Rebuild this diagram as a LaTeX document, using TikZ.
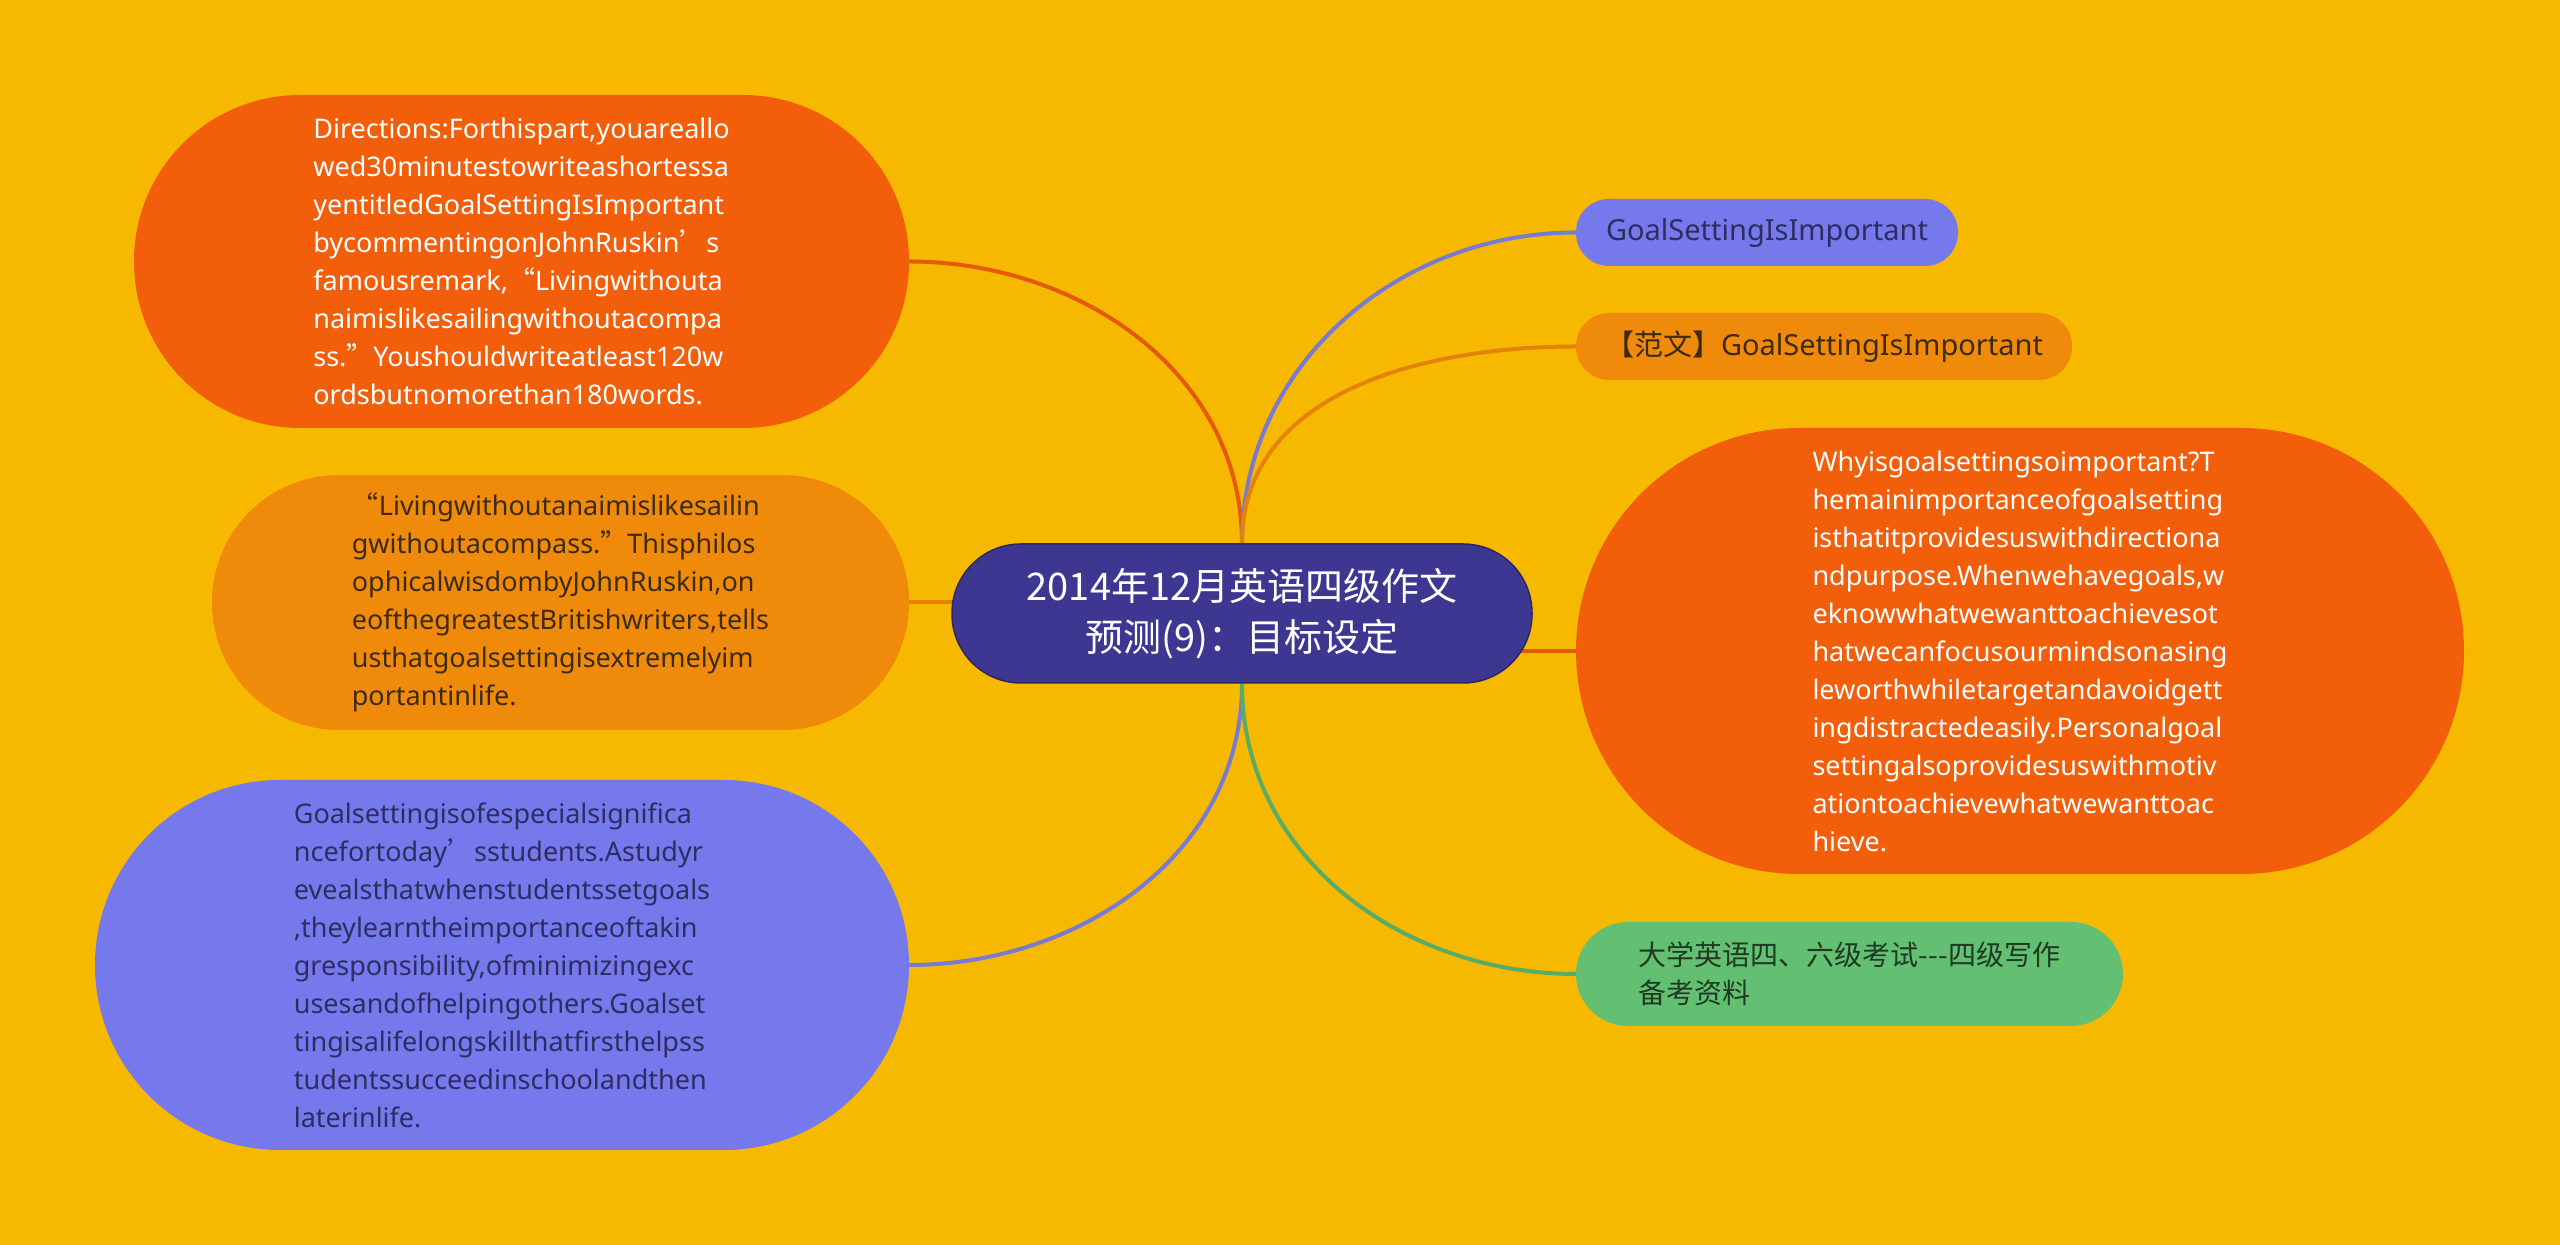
\documentclass[tikz,border=0pt]{standalone}
\usepackage{fontspec}
\setmainfont{Noto Sans}
\newfontfamily\cjk{Noto Sans CJK SC}
\usetikzlibrary{backgrounds}

\definecolor{bgyellow}{HTML}{F6B900}
\definecolor{redorange}{HTML}{F25E0A}
\definecolor{orange}{HTML}{F08A0A}
\definecolor{periwinkle}{HTML}{7579EC}
\definecolor{hubnavy}{HTML}{3E3791}
\definecolor{leafgreen}{HTML}{63BF71}
\definecolor{browntext}{HTML}{3B2B12}
\definecolor{navytext}{HTML}{2D2D62}
\definecolor{greentext}{HTML}{1E3A22}

\newcommand\parafont{\fontsize{27}{38}\selectfont}
\newcommand\q[1]{{\cjk #1}}

\tikzset{
  bubble/.style={rectangle, rounded corners=#1, inner sep=0pt, align=left},
  link/.style={line width=4pt}
}

\begin{document}
\begin{tikzpicture}[x=1pt,y=1pt]
\useasboundingbox (0,0) rectangle (2560,1245);

% centre
\node[bubble=69pt, fill=hubnavy, draw=hubnavy!70!black, line width=1.5pt, text=white, align=center,
      minimum width=580pt, minimum height=139pt, font=\cjk\fontsize{38}{51}\selectfont] (hub) at (1242,631.5)
  {2014年12月英语四级作文\\预测(9)：目标设定};

% left side
\node[bubble=166pt, fill=redorange, text=white, minimum width=775pt, minimum height=333pt, font=\parafont] (direc) at (521.5,983.5)
  {Directions:Forthispart,youareallo\\
   wed30minutestowriteashortessa\\
   yentitledGoalSettingIsImportant\\
   bycommentingonJohnRuskin\q{’}s\\
   famousremark,\q{“}Livingwithouta\\
   naimislikesailingwithoutacompa\\
   ss.\q{”}Youshouldwriteatleast120w\\
   ordsbutnomorethan180words.};
\node[bubble=127pt, fill=orange, text=browntext, minimum width=697pt, minimum height=255pt, font=\parafont] (quote) at (560.5,642.5)
  {\q{“}Livingwithoutanaimislikesailin\\
   gwithoutacompass.\q{”}Thisphilos\\
   ophicalwisdombyJohnRuskin,on\\
   eofthegreatestBritishwriters,tells\\
   usthatgoalsettingisextremelyim\\
   portantinlife.};
\node[bubble=185pt, fill=periwinkle, text=navytext, minimum width=814pt, minimum height=370pt, font=\parafont] (signif) at (502,280)
  {Goalsettingisofespecialsignifica\\
   ncefortoday\q{’}sstudents.Astudyr\\
   evealsthatwhenstudentssetgoals\\
   ,theylearntheimportanceoftakin\\
   gresponsibility,ofminimizingexc\\
   usesandofhelpingothers.Goalset\\
   tingisalifelongskillthatfirsthelpss\\
   tudentssucceedinschoolandthen\\
   laterinlife.};

% right side
\node[bubble=33pt, fill=periwinkle, text=navytext, minimum width=382pt, minimum height=67pt, font=\fontsize{29}{38}\selectfont] (title) at (1767,1012.5)
  {GoalSettingIsImportant};
\node[bubble=33pt, fill=orange, text=browntext, minimum width=496pt, minimum height=67pt, font=\fontsize{29}{38}\selectfont] (model) at (1824,898.5)
  {\q{【范文】}GoalSettingIsImportant};
\node[bubble=223pt, fill=redorange, text=white, minimum width=888pt, minimum height=446pt, font=\parafont] (reason) at (2020,594)
  {Whyisgoalsettingsoimportant?T\\
   hemainimportanceofgoalsetting\\
   isthatitprovidesuswithdirectiona\\
   ndpurpose.Whenwehavegoals,w\\
   eknowwhatwewanttoachievesot\\
   hatwecanfocusourmindsonasing\\
   leworthwhiletargetandavoidgett\\
   ingdistractedeasily.Personalgoal\\
   settingalsoprovidesuswithmotiv\\
   ationtoachievewhatwewanttoac\\
   hieve.};
\node[bubble=52pt, fill=leafgreen, text=greentext, minimum width=547pt, minimum height=104pt, font=\cjk\fontsize{28}{38}\selectfont] (ref) at (1849.5,271)
  {大学英语四、六级考试-\kern0pt-\kern0pt-四级写作\\备考资料};

\begin{scope}[on background layer]
\fill[bgyellow] (0,0) rectangle (2560,1245);
\draw[link, color=redorange!95!black] (hub.north) to[out=90,in=0] (direc.east);
\draw[link, color=orange!95!black] (quote.east) -- (quote.east -| hub.center);
\draw[link, color=periwinkle!75!gray] (hub.south) to[out=-90,in=0] (signif.east);
\draw[link, color=periwinkle!75!gray] (hub.north) to[out=90,in=180] (title.west);
\draw[link, color=orange!95!black] (hub.north) to[out=90,in=180] (model.west);
\draw[link, color=redorange!95!black] (reason.west) -- (reason.west -| hub.center);
\draw[link, color=leafgreen!90!black] (hub.south) to[out=-90,in=180] (ref.west);
\end{scope}

\end{tikzpicture}
\end{document}
